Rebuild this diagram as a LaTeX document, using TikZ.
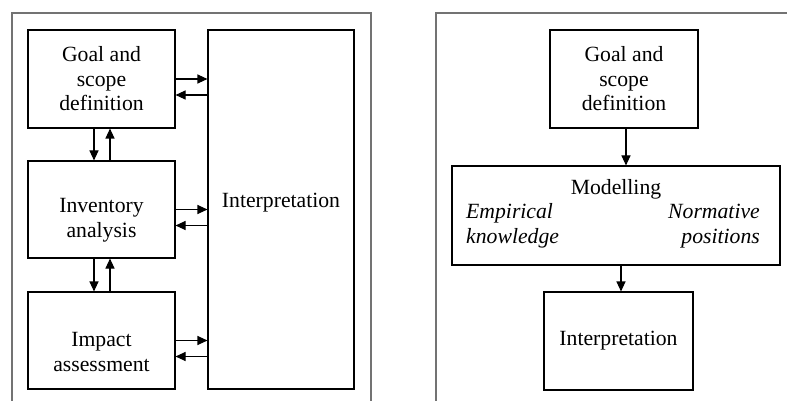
\documentclass[tikz,border=0pt]{standalone}
\usepackage{fontspec}
\setmainfont{Liberation Serif}
\usetikzlibrary{arrows.meta}
\begin{document}
\begin{tikzpicture}[x=1pt,y=-1pt,
  box/.style={draw=black,line width=1.1pt,inner sep=0pt,align=center,
    font=\fontsize{21.7}{24.5}\selectfont},
  txt/.style={inner sep=0pt,align=center,font=\fontsize{21.7}{24.5}\selectfont},
  itxt/.style={inner sep=0pt,align=left,font=\fontsize{21.7}{24.5}\selectfont\itshape},
  frame/.style={draw=black!55,line width=1.6pt},
  arr/.style={line width=1.1pt,-{Triangle[length=10pt,width=9pt]}}]
\useasboundingbox (0,0) rectangle (787,401);
% frames
\draw[frame] (12,402) -- (12,13) -- (371,13) -- (371,402);
\draw[frame] (436,402) -- (436,13) -- (788,13);
% left panel
\node[box,minimum width=147pt,minimum height=98pt] (goal) at (101.5,79) {Goal and\\scope\\definition};
\node[box,minimum width=147pt,minimum height=97pt] (inv) at (101.5,209.5) {};
\node[txt] (invtxt) at (101.5,220) {Inventory\\analysis};
\node[box,minimum width=147pt,minimum height=97pt] (imp) at (101.5,340.5) {};
\node[txt] (imptxt) at (101.5,352) {Impact\\assessment};
\node[box,minimum width=146pt,minimum height=359pt] (interp) at (281,209.5) {};
\node[txt] (interptxt) at (281,203) {Interpretation};
% horizontal arrows
\foreach \n in {goal,inv,imp}{
  \draw[arr] (\n.east) -- (\n.east -| interp.west);
  \draw[arr] ([yshift=-16pt]\n.east -| interp.west) -- ([yshift=-16pt]\n.east);
}
% vertical arrows
\draw[arr] ([xshift=-7.5pt]goal.south) -- ([xshift=-7.5pt]inv.north);
\draw[arr] ([xshift=8.5pt]inv.north) -- ([xshift=8.5pt]goal.south);
\draw[arr] ([xshift=-7.5pt]inv.south) -- ([xshift=-7.5pt]imp.north);
\draw[arr] ([xshift=8.5pt]imp.north) -- ([xshift=8.5pt]inv.south);
% right panel
\node[box,minimum width=148pt,minimum height=98pt] (rgoal) at (624,79) {Goal and\\scope\\definition};
\node[box,minimum width=328pt,minimum height=99pt] (model) at (616,215.5) {};
\node[txt] (modtxt) at (616,189) {Modelling};
\node[itxt,anchor=west] (emp) at (466,226) {Empirical\\knowledge};
\node[itxt,anchor=east,align=right] (norm) at (760,226) {Normative\\positions};
\node[box,minimum width=149pt,minimum height=98pt] (rint) at (618.5,341) {Interpretation};
\draw[arr] ([xshift=2pt]rgoal.south) -- ([xshift=2pt]rgoal.south |- model.north);
\draw[arr] ([xshift=2.5pt]rint.north |- model.south) -- ([xshift=2.5pt]rint.north);
\end{tikzpicture}
\end{document}
